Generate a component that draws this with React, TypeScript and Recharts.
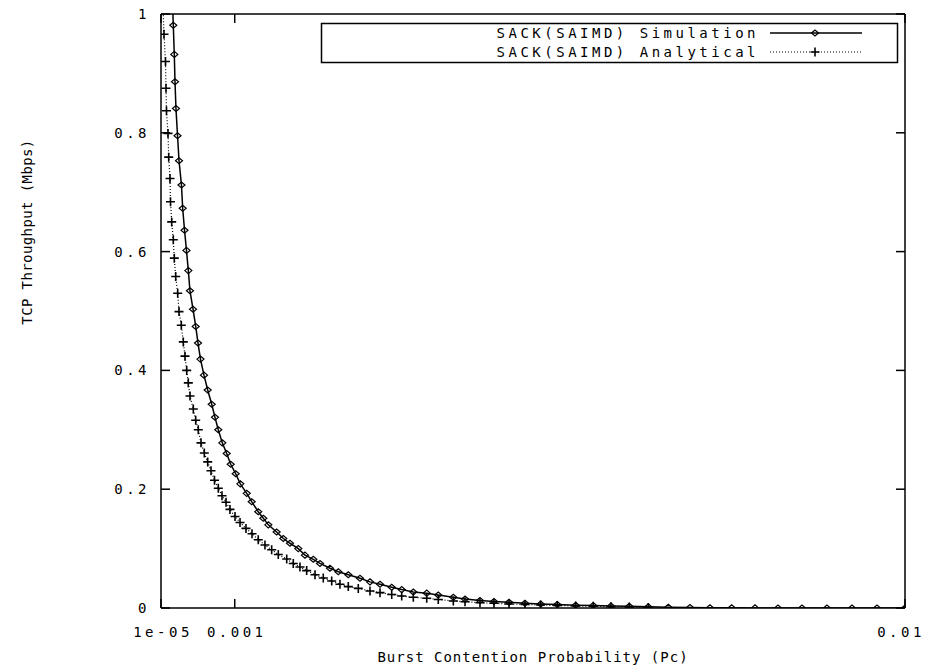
import { LineChart, Line, XAxis, YAxis, Legend } from 'recharts';

// Burst contention probability (Pc) and throughput (Mbps)
const simPc = [
  0.000162, 0.000175, 0.0001886, 0.000198, 0.000211, 0.000232, 0.000252, 0.000285, 0.000301, 0.000326,
  0.000352, 0.000377, 0.000399, 0.00044, 0.000476, 0.000507, 0.00054, 0.000587, 0.000637, 0.000691,
  0.000735, 0.000779, 0.000833, 0.000892, 0.000946, 0.001013, 0.001075, 0.001161, 0.001228, 0.001316,
  0.001384, 0.001451, 0.001563, 0.001652, 0.001742, 0.001853, 0.001943, 0.002055, 0.002145, 0.002279,
  0.002391, 0.002525, 0.002682, 0.002816, 0.002951, 0.003108, 0.003242, 0.003398, 0.003578, 0.003733,
  0.003935, 0.004092, 0.004293, 0.004481, 0.004683, 0.004897, 0.005108, 0.005331, 0.005578, 0.005814,
  0.006052, 0.006298, 0.006553, 0.006822, 0.007113, 0.007381, 0.007673, 0.007986, 0.008295, 0.008617,
  0.008952, 0.009288, 0.009624, 0.01,
];
const simThroughput = [
  1.03, 0.981, 0.932, 0.886, 0.841, 0.795, 0.753, 0.712, 0.673, 0.636,
  0.602, 0.568, 0.534, 0.503, 0.474, 0.446, 0.419, 0.392, 0.367, 0.343,
  0.321, 0.3, 0.278, 0.26, 0.242, 0.226, 0.209, 0.193, 0.179, 0.162,
  0.151, 0.14, 0.128, 0.117, 0.109, 0.1, 0.089, 0.082, 0.075, 0.067,
  0.061, 0.056, 0.05, 0.044, 0.04, 0.035, 0.031, 0.027, 0.025, 0.022,
  0.018, 0.015, 0.0126, 0.011, 0.0096, 0.0079, 0.0067, 0.0059, 0.0047, 0.0042,
  0.0034, 0.0029, 0.0022, 0.0013, 0.0008, 0.0005, 0.0003, 0.0002, 0.0001, 0.0001,
  0, 0, 0, 0,
];

const anaPc = [
  0.0000369, 0.0000503, 0.0000704, 0.0000771, 0.0000838, 0.000104, 0.0001134, 0.0001308, 0.0001376, 0.0001537,
  0.0001752, 0.0001886, 0.0002074, 0.0002342, 0.0002517, 0.0002826, 0.0003094, 0.0003322, 0.0003551, 0.0003766,
  0.0003994, 0.0004437, 0.0004759, 0.0005108, 0.0005471, 0.0005914, 0.000637, 0.0006814, 0.0007283, 0.0007794,
  0.000829, 0.000883, 0.000936, 0.001004, 0.001071, 0.001151, 0.001232, 0.001316, 0.001406, 0.001496,
  0.001585, 0.001698, 0.001786, 0.001876, 0.001966, 0.002078, 0.002189, 0.002302, 0.002413, 0.002525,
  0.002659, 0.002816, 0.002951, 0.003108, 0.003242, 0.003398, 0.003578, 0.003733, 0.003935, 0.004092,
  0.004293, 0.004481, 0.004683, 0.004897, 0.005108, 0.005331, 0.005578, 0.005814, 0.006052, 0.006298,
  0.006553,
];
const anaThroughput = [
  1.013, 0.966, 0.92, 0.875, 0.837, 0.799, 0.759, 0.723, 0.684, 0.65,
  0.62, 0.589, 0.558, 0.53, 0.499, 0.476, 0.448, 0.424, 0.4, 0.379,
  0.357, 0.335, 0.316, 0.3, 0.278, 0.261, 0.246, 0.231, 0.215, 0.2015,
  0.189, 0.178, 0.166, 0.154, 0.144, 0.134, 0.125, 0.115, 0.106, 0.098,
  0.09, 0.0825, 0.075, 0.069, 0.063, 0.056, 0.0505, 0.0455, 0.04, 0.036,
  0.033, 0.0286, 0.0258, 0.0227, 0.0202, 0.018, 0.0163, 0.0143, 0.0118, 0.0106,
  0.0089, 0.0079, 0.0067, 0.0059, 0.005, 0.0042, 0.0034, 0.0029, 0.0022, 0.0017,
  0.0008,
];

const seriesNames = ['SACK(SAIMD) Simulation', 'SACK(SAIMD) Analytical'];
const xTicks = [0.00001, 0.001, 0.01];
const xTickLabels = ['1e-05', '0.001', '0.01'];
const yTicks = [0, 0.2, 0.4, 0.6, 0.8, 1];
const yTickLabels = ['0', '0.2', '0.4', '0.6', '0.8', '1'];

const simData = simPc.map((pc, i) => ({ pc, tp: simThroughput[i] }));
const anaData = anaPc.map((pc, i) => ({ pc, tp: anaThroughput[i] }));

// gnuplot-ish pixel font: wide cells for ticks/legend, tighter for axis titles
const FONT = {
  fontFamily: '"DejaVu Sans Mono", monospace',
  fontSize: 14,
  letterSpacing: 3.5,
  fill: '#000',
};
const TITLE_FONT = { ...FONT, letterSpacing: 1 };
const TICK = 9;

function Diamond({ cx, cy }: { cx: number; cy: number }) {
  return (
    <path
      d={`M${cx - 3.5},${cy} L${cx},${cy - 3} L${cx + 3.5},${cy} L${cx},${cy + 3} Z`}
      fill="none"
      stroke="#000"
      strokeWidth={1.2}
    />
  );
}

function Plus({ cx, cy }: { cx: number; cy: number }) {
  return (
    <path
      d={`M${cx - 4.5},${cy} H${cx + 4.5} M${cx},${cy - 4.5} V${cy + 4.5}`}
      stroke="#000"
      strokeWidth={1.6}
      fill="none"
    />
  );
}

const LeftTick = (props: any) => {
  const { x, y, payload } = props;
  const label = yTickLabels[yTicks.indexOf(payload.value)];
  return (
    <g>
      <line x1={x} x2={x + TICK} y1={y} y2={y} stroke="#000" strokeWidth={1.5} />
      <text x={x - 11} y={y} dy="0.35em" textAnchor="end" style={FONT}>
        {label}
      </text>
    </g>
  );
};

const RightTick = (props: any) => {
  const { x, y } = props;
  return <line x1={x} x2={x - TICK} y1={y} y2={y} stroke="#000" strokeWidth={1.5} />;
};

const BottomTick = (props: any) => {
  const { x, y, payload } = props;
  const label = xTickLabels[xTicks.indexOf(payload.value)];
  const last = payload.value === xTicks[xTicks.length - 1];
  return (
    <g>
      <line x1={x} x2={x} y1={y} y2={y - TICK} stroke="#000" strokeWidth={1.5} />
      <text x={last ? x - 4 : x + 2} y={y + 19} dy="0.71em" textAnchor="middle" style={FONT}>
        {label}
      </text>
    </g>
  );
};

const TopTick = (props: any) => {
  const { x, y } = props;
  return <line x1={x} x2={x} y1={y} y2={y + TICK} stroke="#000" strokeWidth={1.5} />;
};

const LegendBox = () => (
  <svg width={577} height={40} style={{ display: 'block', overflow: 'visible' }}>
    <rect x={0.5} y={0.5} width={576} height={39} fill="#fff" stroke="#000" strokeWidth={1.5} />
    {seriesNames.map((name, i) => {
      const cy = 10 + i * 19;
      return (
        <g key={name}>
          <text x={438} y={cy} dy="0.35em" textAnchor="end" style={FONT}>
            {name}
          </text>
          <line
            x1={449}
            x2={541}
            y1={cy}
            y2={cy}
            stroke="#000"
            strokeWidth={i === 0 ? 1.5 : 1.2}
            strokeDasharray={i === 0 ? undefined : '1 2'}
          />
          {i === 0 ? <Diamond cx={494} cy={cy} /> : <Plus cx={494} cy={cy} />}
        </g>
      );
    })}
  </svg>
);

export default function App() {
  return (
    <div style={{ position: 'absolute', left: 0, top: 0, width: 927, height: 666, background: '#fff' }}>
      <LineChart width={927} height={666} margin={{ top: 0, right: 0, bottom: 28, left: 0 }}>
        <XAxis
          dataKey="pc"
          type="number"
          domain={[0.00001, 0.01]}
          allowDataOverflow
          ticks={xTicks}
          height={30}
          tickSize={0}
          tickMargin={0}
          tick={<BottomTick />}
          axisLine={{ stroke: '#000', strokeWidth: 1.5 }}
          tickLine={false}
        />
        <XAxis
          xAxisId="top"
          orientation="top"
          dataKey="pc"
          type="number"
          domain={[0.00001, 0.01]}
          allowDataOverflow
          ticks={xTicks}
          height={14}
          tickSize={0}
          tickMargin={0}
          tick={<TopTick />}
          axisLine={{ stroke: '#000', strokeWidth: 1.5 }}
          tickLine={false}
        />
        <YAxis
          type="number"
          domain={[0, 1]}
          allowDataOverflow
          ticks={yTicks}
          width={161}
          tickSize={0}
          tickMargin={0}
          tick={<LeftTick />}
          axisLine={{ stroke: '#000', strokeWidth: 1.5 }}
          tickLine={false}
          label={{
            content: () => (
              <text
                x={27}
                y={232}
                textAnchor="middle"
                dy="0.35em"
                transform="rotate(-90, 27, 232)"
                style={{ ...TITLE_FONT, letterSpacing: 0.4 }}
              >
                TCP Throughput (Mbps)
              </text>
            ),
          }}
        />
        <YAxis
          yAxisId="right"
          orientation="right"
          type="number"
          domain={[0, 1]}
          allowDataOverflow
          ticks={yTicks}
          width={22}
          tickSize={0}
          tickMargin={0}
          tick={<RightTick />}
          axisLine={{ stroke: '#000', strokeWidth: 1.5 }}
          tickLine={false}
        />
        <Legend
          layout="horizontal"
          verticalAlign="middle"
          align="center"
          content={<LegendBox />}
          wrapperStyle={{ left: 321, top: 23, width: 577, height: 40 }}
        />
        <Line
          data={simData}
          dataKey="tp"
          name={seriesNames[0]}
          type="linear"
          stroke="#000"
          strokeWidth={1.5}
          dot={(p: any) => <Diamond key={`s${p.index}`} cx={p.cx} cy={p.cy} />}
          isAnimationActive={false}
        />
        <Line
          data={anaData}
          dataKey="tp"
          name={seriesNames[1]}
          type="linear"
          stroke="#000"
          strokeWidth={1.2}
          strokeDasharray="1 2"
          dot={(p: any) => <Plus key={`a${p.index}`} cx={p.cx} cy={p.cy} />}
          isAnimationActive={false}
        />
      </LineChart>
      <svg
        width={927}
        height={40}
        style={{ position: 'absolute', left: 0, top: 640, pointerEvents: 'none' }}
      >
        <text x={533} y={17} dy="0.35em" textAnchor="middle" style={TITLE_FONT}>
          Burst Contention Probability (Pc)
        </text>
      </svg>
    </div>
  );
}
